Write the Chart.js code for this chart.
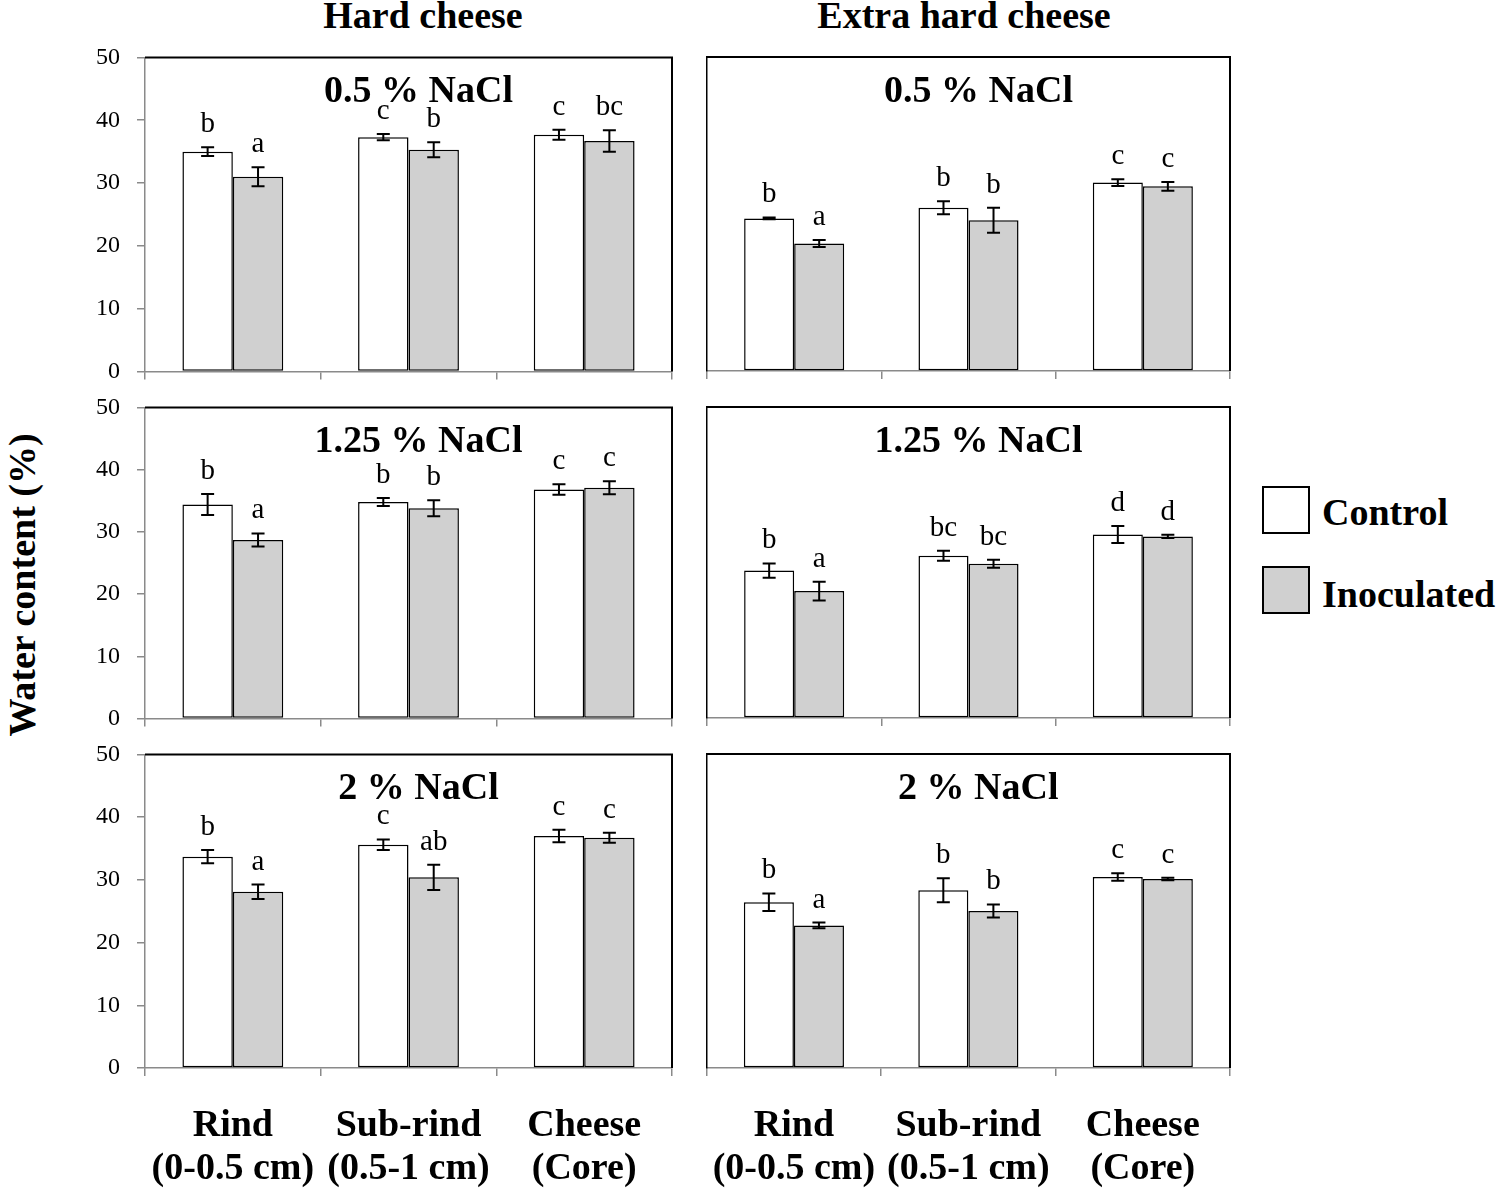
<!DOCTYPE html>
<html>
<head>
<meta charset="utf-8">
<script src="https://cdn.jsdelivr.net/npm/chart.js@4.4.1/dist/chart.umd.min.js"></script>
<style>
  body{margin:0;background:#fff;}
  #page{position:relative;width:1505px;height:1193px;overflow:hidden;font-family:'Liberation Serif','Times New Roman',serif;color:#000;}
  canvas{position:absolute;}
  .txt{position:absolute;white-space:nowrap;font-weight:bold;font-size:38px;line-height:38px;}
  .box{position:absolute;width:44px;height:44px;border:2px solid #000;}
</style>
</head>
<body>
<div id="page">
  <div class="txt" id="hdr0" style="left:423px;top:-4px;transform:translateX(-50%)"></div>
  <div class="txt" id="hdr1" style="left:964px;top:-4px;transform:translateX(-50%)"></div>
  <div class="txt" id="ytitle" style="left:22px;top:585px;transform:translate(-50%,-50%) rotate(-90deg)"></div>
  <div class="box" style="left:1262px;top:486px;background:#fff"></div>
  <div class="box" style="left:1262px;top:566px;background:#d0d0d0"></div>
  <div class="txt" id="leg0" style="left:1322px;top:488px;line-height:48px"></div>
  <div class="txt" id="leg1" style="left:1322px;top:570px;line-height:48px"></div>
</div>
<script>
// ===== Dados =====
const categories = [['Rind','(0-0.5 cm)'], ['Sub-rind','(0.5-1 cm)'], ['Cheese','(Core)']];
const seriesNames = ['Control', 'Inoculated'];
const cheeseTypes = ['Hard cheese', 'Extra hard cheese'];
const yTitle = 'Water content (%)';
const yMin = 0, yMax = 50, yStep = 10;

// ordem dos painéis: duro 0.5, extra 0.5, duro 1.25, extra 1.25, duro 2, extra 2
const panelTitles = ['0.5 % NaCl', '0.5 % NaCl', '1.25 % NaCl', '1.25 % NaCl', '2 % NaCl', '2 % NaCl'];

const controlMean = [
  [35.0, 37.3, 37.7], [24.3, 26.0, 30.0],
  [34.4, 34.8, 36.8], [23.7, 26.1, 29.5],
  [33.7, 35.6, 37.0], [26.4, 28.3, 30.4]
];
const controlErr = [
  [0.7, 0.5, 0.8], [0.15, 1.05, 0.55],
  [1.7, 0.65, 0.85], [1.15, 0.8, 1.35],
  [1.05, 0.85, 1.0], [1.4, 1.9, 0.6]
];
const inocMean = [
  [31.0, 35.3, 36.7], [20.3, 24.0, 29.4],
  [28.7, 33.8, 37.1], [20.4, 24.8, 29.2],
  [28.1, 30.4, 36.7], [22.7, 25.0, 30.1]
];
const inocErr = [
  [1.5, 1.2, 1.7], [0.55, 2.0, 0.7],
  [1.05, 1.3, 1.05], [1.5, 0.65, 0.25],
  [1.15, 2.0, 0.8], [0.45, 1.05, 0.2]
];
const controlLetters = [
  ['b','c','c'], ['b','b','c'],
  ['b','b','c'], ['b','bc','d'],
  ['b','c','c'], ['b','b','c']
];
const inocLetters = [
  ['a','b','bc'], ['a','b','c'],
  ['a','b','c'], ['a','bc','d'],
  ['a','ab','c'], ['a','b','c']
];

// ===== Layout (área de plotagem de cada painel) =====
const cols = [{left:145, right:672, yW:50}, {left:707, right:1230, yW:4}];
const rows = [{top:57, bottom:371}, {top:407, bottom:718}, {top:754, bottom:1068}];
const FONT = 'Liberation Serif';

document.getElementById('hdr0').textContent = cheeseTypes[0];
document.getElementById('hdr1').textContent = cheeseTypes[1];
document.getElementById('ytitle').textContent = yTitle;
document.getElementById('leg0').textContent = seriesNames[0];
document.getElementById('leg1').textContent = seriesNames[1];

// caixa, barras de erro, letras e título do painel
const panelDecor = {
  id: 'panelDecor',
  afterDatasetsDraw(chart){
    const {ctx, chartArea:a} = chart;
    const y = chart.scales.y;
    const opt = chart.options.plugins.panelDecor;
    ctx.save();
    ctx.strokeStyle = '#000'; ctx.fillStyle = '#000';
    ctx.lineWidth = 2;
    ctx.beginPath();
    ctx.moveTo(a.left, a.top); ctx.lineTo(a.right, a.top); ctx.lineTo(a.right, a.bottom);
    ctx.stroke();

    chart.data.datasets.forEach((ds, i) => {
      const meta = chart.getDatasetMeta(i);
      meta.data.forEach((bar, j) => {
        const v = ds.data[j], e = ds.err[j];
        const yt = y.getPixelForValue(v + e), yb = y.getPixelForValue(v - e);
        ctx.lineWidth = 2;
        ctx.beginPath();
        ctx.moveTo(bar.x, yt); ctx.lineTo(bar.x, yb);
        ctx.moveTo(bar.x - 6.5, yt); ctx.lineTo(bar.x + 6.5, yt);
        ctx.moveTo(bar.x - 6.5, yb); ctx.lineTo(bar.x + 6.5, yb);
        ctx.stroke();
        ctx.font = `29px "${FONT}"`;
        ctx.textAlign = 'center'; ctx.textBaseline = 'alphabetic';
        ctx.fillText(ds.letters[j], bar.x, yt - 15);
      });
    });

    ctx.font = `bold 38px "${FONT}"`;
    ctx.textAlign = 'center'; ctx.textBaseline = 'middle';
    ctx.fillText(opt.title, (a.left + a.right) / 2 + 10, a.top + 35);
    ctx.restore();
  }
};

function makeChart(cv, p, c, isLeft, isBottom){
  const xH = isBottom ? 125 : 12;
  return new Chart(cv.getContext('2d'), {
    type: 'bar',
    data: {
      labels: categories,
      datasets: [
        { label: seriesNames[0], data: controlMean[p], err: controlErr[p], letters: controlLetters[p],
          backgroundColor: '#ffffff', borderColor: '#000', borderWidth: 1.5, borderSkipped: false },
        { label: seriesNames[1], data: inocMean[p], err: inocErr[p], letters: inocLetters[p],
          backgroundColor: '#d0d0d0', borderColor: '#000', borderWidth: 1.5, borderSkipped: false }
      ]
    },
    options: {
      responsive: false, animation: false, devicePixelRatio: 1,
      layout: { padding: { top: 2, right: 4, left: 0, bottom: 0 } },
      datasets: { bar: { categoryPercentage: 0.574, barPercentage: 1 } },
      plugins: { legend: { display: false }, tooltip: { enabled: false }, title: { display: false },
                 panelDecor: { title: panelTitles[p] } },
      scales: {
        x: {
          offset: true,
          grid: { offset: true, drawOnChartArea: false, tickLength: 8, color: '#8a8a8a', lineWidth: 1.5 },
          border: { color: '#8a8a8a', width: 1.5 },
          ticks: { display: isBottom, autoSkip: false, maxRotation: 0, minRotation: 0, padding: 28, color: '#000',
                   font: { family: FONT, size: 38, weight: 'bold', lineHeight: 1.15 } },
          afterFit(s){ s.height = xH; }
        },
        y: {
          min: yMin, max: yMax,
          ticks: { stepSize: yStep, display: isLeft, padding: 17, color: '#000', font: { family: FONT, size: 24 } },
          grid: { drawOnChartArea: false, drawTicks: isLeft, tickLength: 8, color: '#8a8a8a', lineWidth: 1.5 },
          border: { color: isLeft ? '#8a8a8a' : '#000', width: 1.5 },
          afterFit(s){ s.width = c.yW; }
        }
      }
    },
    plugins: [panelDecor]
  });
}

const page = document.getElementById('page');

for (let p = 0; p < 6; p++){
  const c = cols[p % 2], r = rows[Math.floor(p / 2)];
  const isLeft = (p % 2) === 0;
  const isBottom = p >= 4;
  const plotW = c.right - c.left, plotH = r.bottom - r.top;
  const cv = document.createElement('canvas');
  cv.width = c.yW + plotW + 4;
  cv.height = 20 + plotH + (isBottom ? 125 : 12);
  cv.style.left = (c.left - c.yW) + 'px';
  cv.style.top = (r.top - 20) + 'px';
  page.appendChild(cv);

  let chart = makeChart(cv, p, c, isLeft, isBottom);
  // ajusta o canvas para que a área de plotagem caia no lugar certo
  for (let k = 0; k < 3; k++){
    const a = chart.chartArea;
    const offL = a.left, offT = a.top, offR = cv.width - a.right, offB = cv.height - a.bottom;
    if (Math.abs(a.right - a.left - plotW) < 0.5 && Math.abs(a.bottom - a.top - plotH) < 0.5 &&
        Math.abs(parseFloat(cv.style.left) + offL - c.left) < 0.5 &&
        Math.abs(parseFloat(cv.style.top) + offT - r.top) < 0.5) break;
    chart.destroy();
    cv.width = Math.round(offL + plotW + offR);
    cv.height = Math.round(offT + plotH + offB);
    cv.style.left = (c.left - offL) + 'px';
    cv.style.top = (r.top - offT) + 'px';
    chart = makeChart(cv, p, c, isLeft, isBottom);
  }
}
</script>
</body>
</html>
